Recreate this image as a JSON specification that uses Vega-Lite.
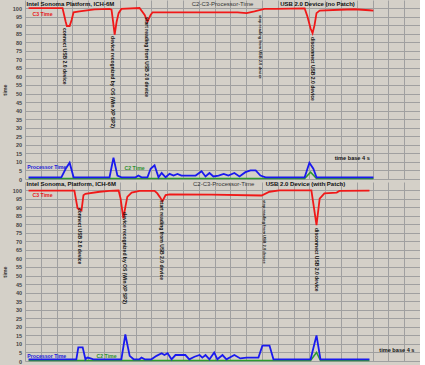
{
  "$schema": "https://vega.github.io/schema/vega-lite/v6.json",
  "background": "#d4d0c8",
  "padding": {"left": 2, "top": 0, "right": 0, "bottom": 0},
  "spacing": 3,
  "bounds": "flush",
  "config": {
    "view": {"stroke": null, "fill": "#d4d0c8"},
    "font": "Liberation Sans",
    "axis": {"gridColor": "#a0a0a0", "gridWidth": 1, "gridOpacity": 1, "domain": false, "ticks": false}
  },
  "datasets": {
    "topLines": [
      {"s": "C3 Time", "t": 0.9, "v": 100}, {"s": "C3 Time", "t": 9.5, "v": 100}, {"s": "C3 Time", "t": 10.3, "v": 92}, {"s": "C3 Time", "t": 10.6, "v": 89.5}, {"s": "C3 Time", "t": 11.3, "v": 89.5}, {"s": "C3 Time", "t": 11.8, "v": 93}, {"s": "C3 Time", "t": 12.3, "v": 97.5}, {"s": "C3 Time", "t": 13.8, "v": 98}, {"s": "C3 Time", "t": 17.6, "v": 99.2}, {"s": "C3 Time", "t": 21.4, "v": 99.5}, {"s": "C3 Time", "t": 21.9, "v": 99}, {"s": "C3 Time", "t": 22.3, "v": 92}, {"s": "C3 Time", "t": 22.7, "v": 84.5}, {"s": "C3 Time", "t": 23.2, "v": 92}, {"s": "C3 Time", "t": 23.7, "v": 97}, {"s": "C3 Time", "t": 24.4, "v": 99.5}, {"s": "C3 Time", "t": 29.0, "v": 100}, {"s": "C3 Time", "t": 30.3, "v": 96}, {"s": "C3 Time", "t": 31.0, "v": 92}, {"s": "C3 Time", "t": 31.8, "v": 96}, {"s": "C3 Time", "t": 32.3, "v": 97.5}, {"s": "C3 Time", "t": 39.1, "v": 97.5}, {"s": "C3 Time", "t": 47.2, "v": 97.5}, {"s": "C3 Time", "t": 53.8, "v": 97.5}, {"s": "C3 Time", "t": 56.1, "v": 97}, {"s": "C3 Time", "t": 58.1, "v": 98}, {"s": "C3 Time", "t": 60.6, "v": 99.5}, {"s": "C3 Time", "t": 63.4, "v": 99.5}, {"s": "C3 Time", "t": 70.8, "v": 99.8}, {"s": "C3 Time", "t": 71.5, "v": 95}, {"s": "C3 Time", "t": 72.3, "v": 88}, {"s": "C3 Time", "t": 72.8, "v": 85.3}, {"s": "C3 Time", "t": 73.3, "v": 90}, {"s": "C3 Time", "t": 73.8, "v": 97}, {"s": "C3 Time", "t": 74.6, "v": 98.5}, {"s": "C3 Time", "t": 79.6, "v": 99}, {"s": "C3 Time", "t": 83.4, "v": 99.3}, {"s": "C3 Time", "t": 87.2, "v": 98.7}, {"s": "C3 Time", "t": 88.2, "v": 98.5},
      {"s": "Processor Time", "t": 0.9, "v": 1}, {"s": "Processor Time", "t": 9.2, "v": 1}, {"s": "Processor Time", "t": 10.3, "v": 6}, {"s": "Processor Time", "t": 11.3, "v": 9.5}, {"s": "Processor Time", "t": 12.3, "v": 1}, {"s": "Processor Time", "t": 21.4, "v": 1}, {"s": "Processor Time", "t": 22.4, "v": 12.5}, {"s": "Processor Time", "t": 23.4, "v": 2}, {"s": "Processor Time", "t": 24.4, "v": 1}, {"s": "Processor Time", "t": 28.0, "v": 1}, {"s": "Processor Time", "t": 28.7, "v": 2}, {"s": "Processor Time", "t": 29.5, "v": 1}, {"s": "Processor Time", "t": 31.0, "v": 1}, {"s": "Processor Time", "t": 31.8, "v": 6}, {"s": "Processor Time", "t": 32.8, "v": 8}, {"s": "Processor Time", "t": 33.8, "v": 1}, {"s": "Processor Time", "t": 34.6, "v": 3.5}, {"s": "Processor Time", "t": 35.6, "v": 1}, {"s": "Processor Time", "t": 36.6, "v": 3}, {"s": "Processor Time", "t": 37.6, "v": 2}, {"s": "Processor Time", "t": 38.6, "v": 3}, {"s": "Processor Time", "t": 39.6, "v": 2}, {"s": "Processor Time", "t": 43.2, "v": 2}, {"s": "Processor Time", "t": 44.7, "v": 4.5}, {"s": "Processor Time", "t": 45.7, "v": 1.5}, {"s": "Processor Time", "t": 46.7, "v": 3.5}, {"s": "Processor Time", "t": 47.7, "v": 1.5}, {"s": "Processor Time", "t": 49.0, "v": 2}, {"s": "Processor Time", "t": 50.3, "v": 3}, {"s": "Processor Time", "t": 51.5, "v": 2}, {"s": "Processor Time", "t": 53.0, "v": 3.5}, {"s": "Processor Time", "t": 54.3, "v": 1.5}, {"s": "Processor Time", "t": 55.8, "v": 4}, {"s": "Processor Time", "t": 57.1, "v": 5}, {"s": "Processor Time", "t": 58.4, "v": 5}, {"s": "Processor Time", "t": 59.6, "v": 2}, {"s": "Processor Time", "t": 60.9, "v": 1}, {"s": "Processor Time", "t": 70.8, "v": 1}, {"s": "Processor Time", "t": 72.0, "v": 9.5}, {"s": "Processor Time", "t": 73.0, "v": 6}, {"s": "Processor Time", "t": 73.8, "v": 1}, {"s": "Processor Time", "t": 88.2, "v": 1},
      {"s": "C2 Time", "t": 0.9, "v": 0.3}, {"s": "C2 Time", "t": 70.8, "v": 0.3}, {"s": "C2 Time", "t": 72.3, "v": 4}, {"s": "C2 Time", "t": 73.8, "v": 0.3}, {"s": "C2 Time", "t": 88.2, "v": 0.3}
    ],
    "bottomLines": [
      {"s": "C3 Time", "t": 0.9, "v": 99.7}, {"s": "C3 Time", "t": 12.5, "v": 99.7}, {"s": "C3 Time", "t": 13.3, "v": 89.4}, {"s": "C3 Time", "t": 14.3, "v": 88}, {"s": "C3 Time", "t": 14.8, "v": 97}, {"s": "C3 Time", "t": 15.3, "v": 97.8}, {"s": "C3 Time", "t": 18.9, "v": 99}, {"s": "C3 Time", "t": 21.4, "v": 99.5}, {"s": "C3 Time", "t": 23.7, "v": 99.7}, {"s": "C3 Time", "t": 24.2, "v": 95}, {"s": "C3 Time", "t": 24.9, "v": 83.4}, {"s": "C3 Time", "t": 25.4, "v": 90}, {"s": "C3 Time", "t": 25.9, "v": 96}, {"s": "C3 Time", "t": 27.0, "v": 98.5}, {"s": "C3 Time", "t": 29.0, "v": 99.5}, {"s": "C3 Time", "t": 32.8, "v": 99.5}, {"s": "C3 Time", "t": 33.5, "v": 98}, {"s": "C3 Time", "t": 34.1, "v": 96}, {"s": "C3 Time", "t": 34.8, "v": 93.5}, {"s": "C3 Time", "t": 35.6, "v": 97}, {"s": "C3 Time", "t": 36.6, "v": 97.5}, {"s": "C3 Time", "t": 47.2, "v": 97.3}, {"s": "C3 Time", "t": 59.9, "v": 96.8}, {"s": "C3 Time", "t": 61.9, "v": 99}, {"s": "C3 Time", "t": 64.4, "v": 99.8}, {"s": "C3 Time", "t": 72.5, "v": 99.8}, {"s": "C3 Time", "t": 73.0, "v": 92}, {"s": "C3 Time", "t": 73.8, "v": 79.5}, {"s": "C3 Time", "t": 74.6, "v": 95}, {"s": "C3 Time", "t": 75.8, "v": 98}, {"s": "C3 Time", "t": 78.9, "v": 98.5}, {"s": "C3 Time", "t": 79.6, "v": 99.5}, {"s": "C3 Time", "t": 87.2, "v": 99.7},
      {"s": "Processor Time", "t": 0.9, "v": 1}, {"s": "Processor Time", "t": 13.0, "v": 1}, {"s": "Processor Time", "t": 13.5, "v": 8}, {"s": "Processor Time", "t": 14.6, "v": 8}, {"s": "Processor Time", "t": 15.3, "v": 1}, {"s": "Processor Time", "t": 15.8, "v": 2}, {"s": "Processor Time", "t": 16.6, "v": 1.5}, {"s": "Processor Time", "t": 17.3, "v": 1}, {"s": "Processor Time", "t": 24.4, "v": 1}, {"s": "Processor Time", "t": 25.4, "v": 15.5}, {"s": "Processor Time", "t": 26.5, "v": 3}, {"s": "Processor Time", "t": 27.5, "v": 1}, {"s": "Processor Time", "t": 29.0, "v": 1}, {"s": "Processor Time", "t": 29.5, "v": 2}, {"s": "Processor Time", "t": 30.3, "v": 1}, {"s": "Processor Time", "t": 32.0, "v": 1}, {"s": "Processor Time", "t": 33.3, "v": 3}, {"s": "Processor Time", "t": 34.6, "v": 4.5}, {"s": "Processor Time", "t": 35.3, "v": 3.5}, {"s": "Processor Time", "t": 36.1, "v": 4.5}, {"s": "Processor Time", "t": 37.1, "v": 1}, {"s": "Processor Time", "t": 38.1, "v": 3.5}, {"s": "Processor Time", "t": 40.6, "v": 3.5}, {"s": "Processor Time", "t": 41.6, "v": 1}, {"s": "Processor Time", "t": 42.9, "v": 2.5}, {"s": "Processor Time", "t": 44.2, "v": 3.5}, {"s": "Processor Time", "t": 44.9, "v": 2}, {"s": "Processor Time", "t": 45.7, "v": 3.5}, {"s": "Processor Time", "t": 46.7, "v": 1}, {"s": "Processor Time", "t": 47.9, "v": 5}, {"s": "Processor Time", "t": 48.7, "v": 1}, {"s": "Processor Time", "t": 50.0, "v": 3.5}, {"s": "Processor Time", "t": 51.0, "v": 1}, {"s": "Processor Time", "t": 53.0, "v": 3.5}, {"s": "Processor Time", "t": 54.5, "v": 1.5}, {"s": "Processor Time", "t": 56.1, "v": 2}, {"s": "Processor Time", "t": 59.1, "v": 2}, {"s": "Processor Time", "t": 60.1, "v": 9}, {"s": "Processor Time", "t": 61.9, "v": 9}, {"s": "Processor Time", "t": 62.9, "v": 1}, {"s": "Processor Time", "t": 72.3, "v": 1}, {"s": "Processor Time", "t": 73.8, "v": 15}, {"s": "Processor Time", "t": 74.8, "v": 1}, {"s": "Processor Time", "t": 87.2, "v": 1},
      {"s": "C2 Time", "t": 0.9, "v": 0.3}, {"s": "C2 Time", "t": 72.3, "v": 0.3}, {"s": "C2 Time", "t": 73.8, "v": 5}, {"s": "C2 Time", "t": 74.8, "v": 0.3}, {"s": "C2 Time", "t": 87.2, "v": 0.3}
    ]
  },
  "vconcat": [
    {
      "width": 395,
      "height": 179,
      "encoding": {
        "x": {"field": "t", "type": "quantitative", "scale": {"domain": [0, 100], "nice": false, "zero": false},
              "axis": {"values": [0,4,8,12,16,20,24,28,32,36,40,44,48,52,56,60,64,68,72,76,80,84,88,92,96,100], "grid": true, "labels": false, "title": null}},
        "y": {"field": "v", "type": "quantitative", "scale": {"domain": [0, 104.7], "nice": false},
              "axis": {"values": [0,5,10,15,20,25,30,35,40,45,50,55,60,65,70,75,80,85,90,95,100], "grid": true, "title": "time", "titleFontSize": 5.5, "titleFontWeight": "bold", "titleColor": "#333", "titlePadding": 5, "labelFontSize": 5.5, "labelFontWeight": "bold", "labelColor": "#444", "labelPadding": 3.5, "minExtent": 13, "maxExtent": 13}}
      },
      "layer": [
        {"data": {"values": [{"t": 88.2}]}, "mark": {"type": "rule", "color": "#d46a6a", "strokeWidth": 1}, "encoding": {"y": {"datum": 0}, "y2": {"datum": 100}}},
        {"data": {"name": "topLines"}, "transform": [{"filter": "datum.s == 'C2 Time'"}], "mark": {"type": "line", "color": "#2f9a2f", "strokeWidth": 1.5}},
        {"data": {"name": "topLines"}, "transform": [{"filter": "datum.s == 'Processor Time'"}], "mark": {"type": "line", "color": "#1a1aee", "strokeWidth": 1.8}},
        {"data": {"name": "topLines"}, "transform": [{"filter": "datum.s == 'C3 Time'"}], "mark": {"type": "line", "color": "#f01818", "strokeWidth": 1.8}},
        {"data": {"values": [
          {"label": "connect USB 2.0 device", "t": 10.25, "v": 88.3},
          {"label": "device recognized by OS (Win XP SP2)", "t": 22.4, "v": 83.6},
          {"label": "start reading from USB 2.0 device", "t": 30.8, "v": 94.7},
          {"label": "disconnect USB 2.0 device", "t": 72.8, "v": 83.0}]},
         "mark": {"type": "text", "angle": 90, "align": "left", "baseline": "middle", "fontSize": 5, "fontWeight": "bold", "color": "#111"},
         "encoding": {"text": {"field": "label"}}},
        {"data": {"values": [{"label": "stop reading from USB 2.0 device", "t": 59.4, "v": 95.9}]},
         "mark": {"type": "text", "angle": 90, "align": "left", "baseline": "middle", "fontSize": 4, "fontWeight": "bold", "color": "#111"},
         "encoding": {"text": {"field": "label"}}},
        {"data": {"values": [{"label": "Intel Sonoma Platform, ICH-6M", "t": 0.4, "v": 102.3}]},
         "mark": {"type": "text", "align": "left", "baseline": "middle", "fontSize": 6, "fontWeight": "bold", "color": "#111"},
         "encoding": {"text": {"field": "label"}}},
        {"data": {"values": [{"label": "USB 2.0 Device (no Patch)", "t": 74.05, "v": 102.1}]},
         "mark": {"type": "text", "align": "center", "baseline": "middle", "fontSize": 6, "fontWeight": "bold", "color": "#111"},
         "encoding": {"text": {"field": "label"}}},
        {"data": {"values": [{"label": "C2-C3-Processor-Time", "t": 50, "v": 102.1}]},
         "mark": {"type": "text", "align": "center", "baseline": "middle", "fontSize": 6, "color": "#333"},
         "encoding": {"text": {"field": "label"}}},
        {"data": {"values": [{"label": "C3 Time", "t": 1.9, "v": 96.5}]},
         "mark": {"type": "text", "align": "left", "baseline": "middle", "fontSize": 5.2, "fontWeight": "bold", "color": "#e81818"},
         "encoding": {"text": {"field": "label"}}},
        {"data": {"values": [{"label": "Processor Time", "t": 0.6, "v": 7.2}]},
         "mark": {"type": "text", "align": "left", "baseline": "middle", "fontSize": 5.2, "fontWeight": "bold", "color": "#2020d8"},
         "encoding": {"text": {"field": "label"}}},
        {"data": {"values": [{"label": "C2 Time", "t": 25.2, "v": 6.3}]},
         "mark": {"type": "text", "align": "left", "baseline": "middle", "fontSize": 5.2, "fontWeight": "bold", "color": "#2f8f2f"},
         "encoding": {"text": {"field": "label"}}},
        {"data": {"values": [{"label": "time base 4 s", "t": 78.4, "v": 12.3}]},
         "mark": {"type": "text", "align": "left", "baseline": "middle", "fontSize": 5.6, "fontWeight": "bold", "color": "#111"},
         "encoding": {"text": {"field": "label"}}}
      ]
    },
    {
      "width": 395,
      "height": 179,
      "encoding": {
        "x": {"field": "t", "type": "quantitative", "scale": {"domain": [0, 100], "nice": false, "zero": false},
              "axis": {"values": [0,4,8,12,16,20,24,28,32,36,40,44,48,52,56,60,64,68,72,76,80,84,88,92,96,100], "grid": true, "labels": false, "title": null}},
        "y": {"field": "v", "type": "quantitative", "scale": {"domain": [0, 104.7], "nice": false},
              "axis": {"values": [0,5,10,15,20,25,30,35,40,45,50,55,60,65,70,75,80,85,90,95,100], "grid": true, "title": "time", "titleFontSize": 5.5, "titleFontWeight": "bold", "titleColor": "#333", "titlePadding": 5, "labelFontSize": 5.5, "labelFontWeight": "bold", "labelColor": "#444", "labelPadding": 3.5, "minExtent": 13, "maxExtent": 13}}
      },
      "layer": [
        {"data": {"values": [{"t": 87.2}]}, "mark": {"type": "rule", "color": "#d46a6a", "strokeWidth": 1}, "encoding": {"y": {"datum": 0}, "y2": {"datum": 100}}},
        {"data": {"name": "bottomLines"}, "transform": [{"filter": "datum.s == 'C2 Time'"}], "mark": {"type": "line", "color": "#2f9a2f", "strokeWidth": 1.5}},
        {"data": {"name": "bottomLines"}, "transform": [{"filter": "datum.s == 'Processor Time'"}], "mark": {"type": "line", "color": "#1a1aee", "strokeWidth": 1.8}},
        {"data": {"name": "bottomLines"}, "transform": [{"filter": "datum.s == 'C3 Time'"}], "mark": {"type": "line", "color": "#f01818", "strokeWidth": 1.8}},
        {"data": {"values": [
          {"label": "connect USB 2.0 device", "t": 14.05, "v": 89.5},
          {"label": "device recognized by OS (Win XP SP2)", "t": 25.4, "v": 87.1},
          {"label": "start reading from USB 2.0 device", "t": 34.8, "v": 94.2},
          {"label": "disconnect USB 2.0 device", "t": 73.8, "v": 77.8}]},
         "mark": {"type": "text", "angle": 90, "align": "left", "baseline": "middle", "fontSize": 5, "fontWeight": "bold", "color": "#111"},
         "encoding": {"text": {"field": "label"}}},
        {"data": {"values": [{"label": "stop reading from USB 2.0 device", "t": 60.4, "v": 94.2}]},
         "mark": {"type": "text", "angle": 90, "align": "left", "baseline": "middle", "fontSize": 4, "fontWeight": "bold", "color": "#111"},
         "encoding": {"text": {"field": "label"}}},
        {"data": {"values": [{"label": "Intel Sonoma, Platform, ICH-6M", "t": 0.4, "v": 103.3}]},
         "mark": {"type": "text", "align": "left", "baseline": "middle", "fontSize": 6, "fontWeight": "bold", "color": "#111"},
         "encoding": {"text": {"field": "label"}}},
        {"data": {"values": [{"label": "USB 2.0 Device (with Patch)", "t": 71, "v": 103.3}]},
         "mark": {"type": "text", "align": "center", "baseline": "middle", "fontSize": 6, "fontWeight": "bold", "color": "#111"},
         "encoding": {"text": {"field": "label"}}},
        {"data": {"values": [{"label": "C2-C3-Processor-Time", "t": 50.3, "v": 103.3}]},
         "mark": {"type": "text", "align": "center", "baseline": "middle", "fontSize": 6, "color": "#333"},
         "encoding": {"text": {"field": "label"}}},
        {"data": {"values": [{"label": "C3 Time", "t": 1.9, "v": 97.1}]},
         "mark": {"type": "text", "align": "left", "baseline": "middle", "fontSize": 5.2, "fontWeight": "bold", "color": "#e81818"},
         "encoding": {"text": {"field": "label"}}},
        {"data": {"values": [{"label": "Processor Time", "t": 0.6, "v": 2.9}]},
         "mark": {"type": "text", "align": "left", "baseline": "middle", "fontSize": 5.2, "fontWeight": "bold", "color": "#2020d8"},
         "encoding": {"text": {"field": "label"}}},
        {"data": {"values": [{"label": "C2 Time", "t": 18.1, "v": 2.9}]},
         "mark": {"type": "text", "align": "left", "baseline": "middle", "fontSize": 5.2, "fontWeight": "bold", "color": "#2f8f2f"},
         "encoding": {"text": {"field": "label"}}},
        {"data": {"values": [{"label": "time base 4 s", "t": 89.7, "v": 6.4}]},
         "mark": {"type": "text", "align": "left", "baseline": "middle", "fontSize": 5.6, "fontWeight": "bold", "color": "#111"},
         "encoding": {"text": {"field": "label"}}}
      ]
    }
  ]
}
